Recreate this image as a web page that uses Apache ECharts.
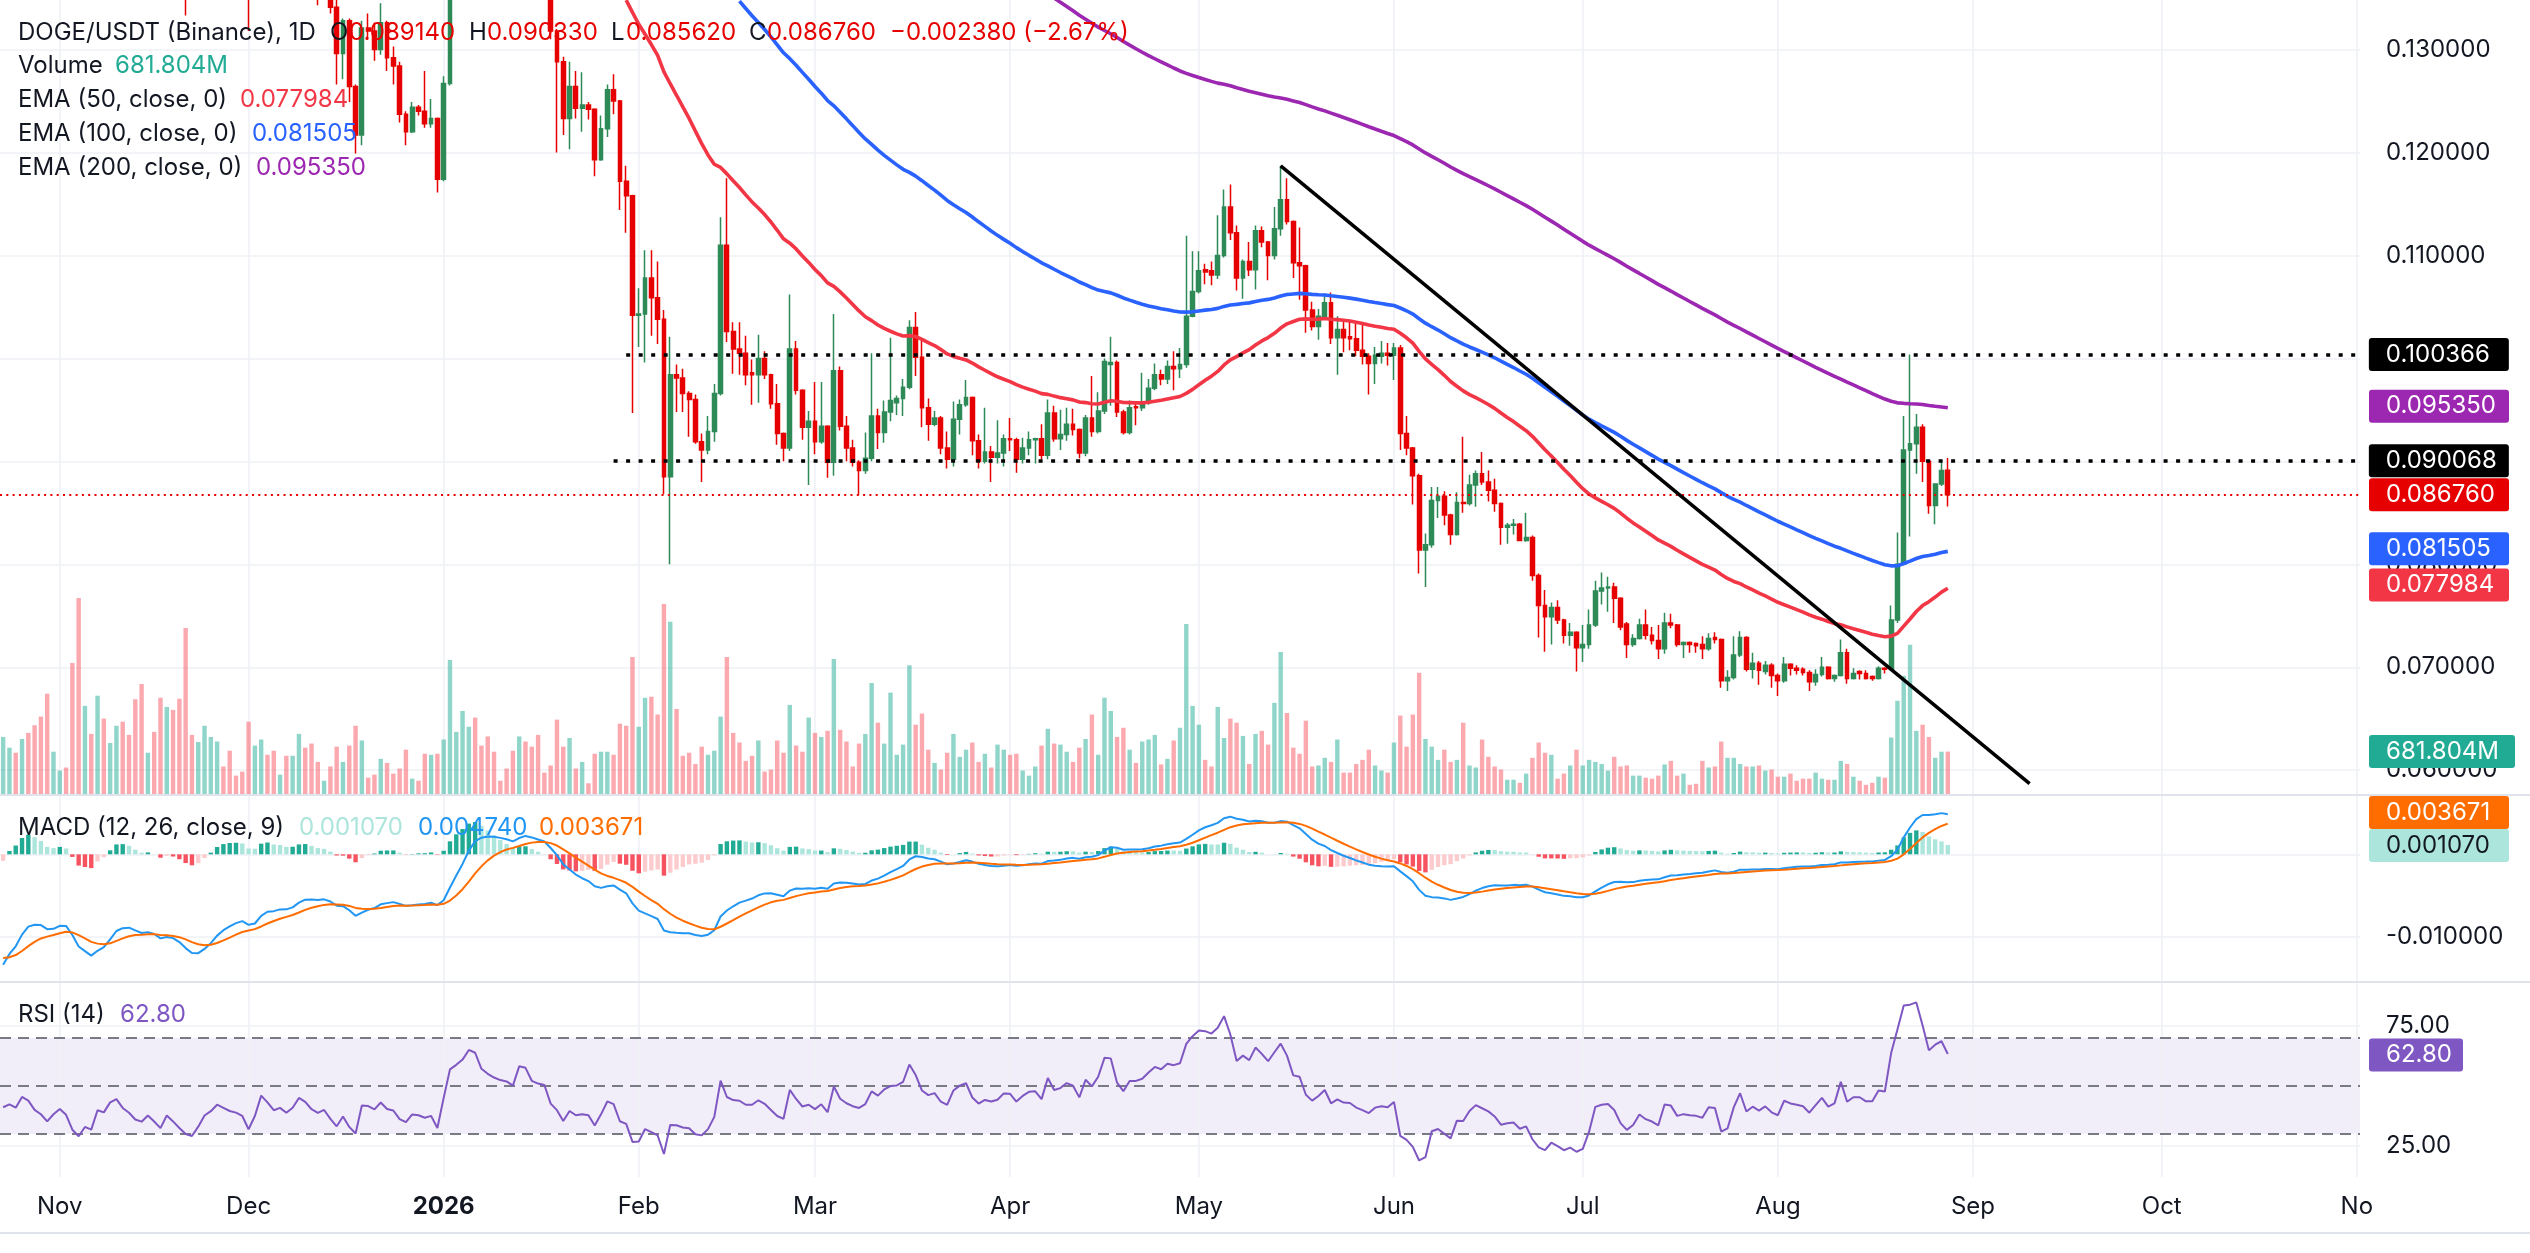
<!DOCTYPE html>
<html><head><meta charset="utf-8">
<script src="https://cdn.jsdelivr.net/npm/echarts@6/dist/echarts.min.js"></script>
<style>html,body{margin:0;padding:0;background:#fff}#c{width:2530px;height:1253px}</style>
</head><body><div id="c"></div>
<script>
// ---------------- DATA ----------------
const startDate = '2025-10-23';
const categoryCount = 375; // daily categories through 2026-11-01

const open = [
.1930,.1970,.1990,.1960,.2030,.2000,.1920,.1880,.1810,.1850,
.1880,.1830,.1680,.1600,.1650,.1620,.1730,.1710,.1770,.1790,
.1720,.1680,.1620,.1600,.1630,.1580,.1520,.1580,.1530,.1470,
.1410,.1390,.1430,.1480,.1500,.1530,.1510,.1490,.1480,.1460,
.1370,.1420,.1510,.1470,.1420,.1430,.1400,.1420,.1460,.1440,
.1400,.1380,.1390,.1341,.1296,.1328,.1264,.1217,.1321,.1318,
.1300,.1326,.1292,.1284,.1237,.1220,.1244,.1240,.1228,.1233,
.1174,.1267,.1395,.1420,.1450,.1510,.1500,.1440,.1420,.1405,
.1395,.1390,.1375,.1455,.1450,.1405,.1395,.1390,.1318,.1288,
.1233,.1264,.1243,.1246,.1242,.1193,.1223,.1261,.1250,.1172,
.1158,.1042,.1043,.1078,.1059,.1038,.0885,.0984,.0981,.0966,
.0960,.0919,.0911,.0929,.0966,.1110,.1026,.1009,.1005,.0986,
.0984,.1000,.0984,.0956,.0927,.0913,.1009,.0969,.0933,.0939,
.0919,.0934,.0899,.0988,.0934,.0913,.0899,.0891,.0903,.0944,
.0928,.0948,.0957,.0961,.0972,.1030,.1001,.0952,.0936,.0942,
.0913,.0902,.0941,.0955,.0962,.0920,.0900,.0909,.0904,.0908,
.0922,.0921,.0902,.0913,.0921,.0922,.0906,.0947,.0922,.0926,
.0936,.0931,.0908,.0942,.0929,.0949,.0994,.0996,.0948,.0928,
.0953,.0952,.0957,.0971,.0984,.0980,.0992,.0990,.0994,.1041,
.1065,.1086,.1085,.1081,.1100,.1147,.1122,.1078,.1094,.1086,
.1124,.1113,.1100,.1126,.1154,.1133,.1093,.1090,.1047,.1031,
.1041,.1054,.1020,.1028,.1021,.1019,.1008,.1002,.0995,.1002,
.1005,.1003,.1010,.0927,.0913,.0886,.0814,.0819,.0862,.0866,
.0848,.0829,.0860,.0859,.0877,.0888,.0880,.0872,.0859,.0836,
.0838,.0839,.0823,.0826,.0789,.0760,.0749,.0758,.0746,.0731,
.0734,.0719,.0722,.0741,.0774,.0777,.0778,.0767,.0742,.0722,
.0728,.0741,.0731,.0726,.0718,.0743,.0741,.0722,.0724,.0723,
.0722,.0718,.0729,.0727,.0687,.0690,.0712,.0729,.0698,.0704,
.0696,.0702,.0692,.0687,.0703,.0699,.0698,.0695,.0686,.0693,
.0700,.0689,.0692,.0714,.0689,.0696,.0694,.0691,.0689,.0699,
.0698,.0746,.0800,.0911,.0917,.0933,.0900,.0857,.0878,.08914];

const high = [
.1990,.2020,.2000,.2060,.2060,.2030,.1960,.1910,.1870,.1900,
.1900,.1840,.1710,.1680,.1670,.1760,.1760,.1800,.1840,.1800,
.1750,.1720,.1650,.1650,.1640,.1600,.1610,.1600,.1550,.1500,
.1440,.1450,.1500,.1530,.1560,.1550,.1530,.1510,.1500,.1470,
.1440,.1530,.1530,.1490,.1450,.1440,.1440,.1480,.1480,.1460,
.1420,.1410,.1400,.1348,.1330,.1330,.1266,.1328,.1335,.1326,
.1345,.1328,.1303,.1288,.1240,.1249,.1246,.1279,.1252,.1234,
.1274,.1410,.1440,.1470,.1530,.1540,.1510,.1460,.1440,.1420,
.1410,.1400,.1470,.1480,.1460,.1420,.1410,.1400,.1320,.1293,
.1288,.1279,.1278,.1249,.1243,.1236,.1266,.1276,.1251,.1187,
.1159,.1068,.1105,.1105,.1094,.1047,.1021,.0994,.0990,.0968,
.0965,.0927,.0944,.0975,.1137,.1175,.1035,.1035,.1022,.0999,
.1023,.1007,.0985,.0975,.0928,.1062,.1017,.0970,.0949,.0977,
.0977,.0935,.1043,.0992,.0944,.0921,.0901,.0928,.1005,.0951,
.0959,.1020,.0964,.0980,.1037,.1045,.1018,.0961,.0949,.0944,
.0929,.0958,.0960,.0979,.0963,.0926,.0952,.0915,.0940,.0926,
.0942,.0923,.0923,.0929,.0923,.0936,.0960,.0954,.0950,.0952,
.0951,.0932,.0945,.0983,.0967,.1000,.1021,.0998,.0950,.0959,
.0958,.0986,.0980,.0995,.0989,.0998,.1007,.1010,.1119,.1104,
.1104,.1092,.1094,.1139,.1164,.1169,.1129,.1096,.1113,.1129,
.1128,.1114,.1147,.1187,.1175,.1134,.1127,.1091,.1055,.1048,
.1063,.1064,.1041,.1036,.1036,.1036,.1033,.1005,.1011,.1017,
.1015,.1015,.1013,.0944,.0914,.0888,.0830,.0875,.0875,.0871,
.0849,.0870,.0924,.0887,.0891,.0909,.0891,.0883,.0860,.0840,
.0844,.0840,.0850,.0828,.0791,.0775,.0763,.0765,.0747,.0743,
.0735,.0741,.0756,.0784,.0792,.0788,.0782,.0768,.0744,.0732,
.0747,.0756,.0739,.0741,.0753,.0752,.0742,.0725,.0725,.0724,
.0730,.0733,.0734,.0728,.0697,.0730,.0735,.0730,.0714,.0706,
.0706,.0704,.0694,.0710,.0704,.0702,.0700,.0697,.0698,.0710,
.0701,.0693,.0727,.0718,.0699,.0697,.0697,.0692,.0701,.0700,
.0760,.0831,.0944,.100366,.0946,.0936,.0901,.0878,.0901,.09033];

const low = [
.1900,.1940,.1930,.1950,.1980,.1900,.1860,.1780,.1790,.1830,
.1800,.1640,.1520,.1570,.1580,.1600,.1690,.1700,.1750,.1700,
.1650,.1600,.1560,.1580,.1560,.1500,.1500,.1510,.1440,.1333,
.1370,.1380,.1410,.1460,.1480,.1490,.1470,.1460,.1440,.1318,
.1348,.1410,.1450,.1400,.1400,.1370,.1380,.1410,.1420,.1380,
.1343,.1360,.1335,.1266,.1271,.1249,.1199,.1207,.1310,.1289,
.1295,.1279,.1266,.1229,.1207,.1219,.1236,.1224,.1224,.1161,
.1172,.1265,.1380,.1400,.1440,.1480,.1430,.1400,.1390,.1380,
.1370,.1360,.1370,.1430,.1390,.1380,.1370,.1310,.1200,.1217,
.1203,.1233,.1220,.1232,.1177,.1192,.1215,.1237,.1144,.1122,
.0947,.1011,.0996,.1022,.1014,.0868,.0800,.0948,.0948,.0924,
.0917,.0880,.0907,.0919,.0964,.1016,.0985,.0984,.0974,.0955,
.0957,.0980,.0951,.0916,.0900,.0910,.0965,.0921,.0877,.0907,
.0917,.0884,.0886,.0930,.0900,.0895,.0867,.0888,.0900,.0912,
.0918,.0939,.0945,.0944,.0970,.0983,.0933,.0920,.0934,.0907,
.0893,.0895,.0926,.0953,.0906,.0893,.0898,.0880,.0898,.0895,
.0910,.0889,.0898,.0906,.0898,.0902,.0902,.0919,.0911,.0920,
.0925,.0903,.0905,.0924,.0927,.0946,.0954,.0943,.0926,.0926,
.0935,.0949,.0955,.0969,.0974,.0975,.0969,.0981,.0991,.1040,
.1063,.1072,.1071,.1077,.1098,.1115,.1066,.1058,.1080,.1067,
.1108,.1076,.1096,.1119,.1130,.1078,.1057,.1025,.1027,.1018,
.1039,.1014,.0984,.1006,.1008,.1002,.0994,.0965,.0975,.0995,
.0993,.0979,.0911,.0906,.0858,.0791,.0778,.0816,.0845,.0838,
.0819,.0828,.0850,.0857,.0856,.0877,.0861,.0851,.0819,.0820,
.0829,.0823,.0822,.0784,.0729,.0715,.0722,.0742,.0723,.0721,
.0696,.0705,.0718,.0739,.0761,.0754,.0743,.0736,.0709,.0720,
.0727,.0727,.0722,.0708,.0713,.0738,.0720,.0709,.0714,.0714,
.0708,.0716,.0723,.0680,.0677,.0688,.0710,.0696,.0689,.0683,
.0693,.0680,.0672,.0685,.0692,.0693,.0692,.0677,.0682,.0691,
.0688,.0686,.0691,.0684,.0688,.0688,.0688,.0687,.0688,.0694,
.0697,.0743,.0799,.0827,.0888,.0880,.0849,.0839,.0876,.08562];

const close = [
.1970,.1990,.1960,.2030,.2000,.1920,.1880,.1810,.1850,.1880,
.1830,.1680,.1600,.1650,.1620,.1730,.1710,.1770,.1790,.1720,
.1680,.1620,.1600,.1630,.1580,.1520,.1580,.1530,.1470,.1410,
.1390,.1430,.1480,.1500,.1530,.1510,.1490,.1480,.1460,.1370,
.1420,.1510,.1470,.1420,.1430,.1400,.1420,.1460,.1440,.1400,
.1380,.1390,.1341,.1296,.1328,.1264,.1217,.1321,.1318,.1300,
.1326,.1292,.1284,.1237,.1220,.1244,.1240,.1228,.1233,.1174,
.1267,.1395,.1420,.1450,.1510,.1500,.1440,.1420,.1405,.1395,
.1390,.1375,.1455,.1450,.1405,.1395,.1390,.1318,.1288,.1233,
.1264,.1243,.1246,.1242,.1193,.1223,.1261,.1250,.1172,.1158,
.1042,.1043,.1078,.1059,.1038,.0885,.0984,.0981,.0966,.0960,
.0919,.0911,.0929,.0966,.1110,.1026,.1009,.1005,.0984,.0984,
.1000,.0984,.0956,.0927,.0913,.1009,.0969,.0933,.0939,.0919,
.0934,.0899,.0988,.0934,.0913,.0899,.0891,.0903,.0944,.0928,
.0948,.0959,.0961,.0972,.1030,.1001,.0952,.0936,.0942,.0913,
.0902,.0941,.0955,.0962,.0920,.0900,.0909,.0904,.0908,.0922,
.0921,.0902,.0913,.0921,.0922,.0906,.0947,.0922,.0926,.0936,
.0931,.0908,.0942,.0929,.0949,.0997,.0996,.0948,.0928,.0952,
.0952,.0957,.0971,.0984,.0980,.0992,.0990,.0994,.1041,.1065,
.1085,.1084,.1081,.1100,.1147,.1122,.1078,.1094,.1086,.1124,
.1113,.1100,.1126,.1154,.1133,.1093,.1090,.1047,.1031,.1041,
.1054,.1020,.1028,.1020,.1019,.1008,.1002,.0995,.1003,.1005,
.1003,.1010,.0927,.0913,.0886,.0814,.0819,.0862,.0866,.0848,
.0829,.0860,.0859,.0877,.0888,.0880,.0872,.0859,.0836,.0838,
.0839,.0823,.0826,.0789,.0760,.0749,.0758,.0746,.0731,.0734,
.0719,.0722,.0741,.0774,.0777,.0778,.0767,.0739,.0722,.0728,
.0741,.0731,.0726,.0718,.0743,.0741,.0722,.0724,.0722,.0721,
.0718,.0728,.0727,.0687,.0690,.0712,.0729,.0698,.0704,.0697,
.0702,.0692,.0687,.0703,.0699,.0697,.0695,.0686,.0693,.0700,
.0689,.0692,.0714,.0689,.0694,.0694,.0689,.0689,.0699,.0698,
.0746,.0800,.0911,.0917,.0933,.0900,.0857,.0878,.0891,.08676];

// volume in millions
const volume = [
912,744,664,880,976,1096,1232,1592,680,384,
432,2072,3096,1400,960,1560,1200,816,1088,1152,
944,1504,1744,664,992,1528,1384,1336,1512,2624,
944,832,1088,912,840,448,696,304,368,1152,
776,872,632,696,320,616,616,960,744,808,
520,224,448,760,520,776,1088,856,272,320,
568,504,336,416,712,256,224,648,632,648,
872,2120,992,1320,1072,1216,776,920,680,224,
416,696,920,840,760,944,352,464,1184,760,
896,416,520,184,648,680,680,632,1120,1088,
2168,1072,1528,1544,1264,3000,2720,1352,616,664,
488,760,632,696,1232,2168,976,824,536,616,
856,368,400,856,664,1416,776,680,1216,976,
912,1008,2136,1024,840,448,808,960,1760,1136,
808,1608,632,792,2040,1104,1280,712,504,400,
664,960,600,712,824,520,648,432,792,712,
632,648,384,304,448,776,1040,808,792,680,
520,744,880,1264,632,1528,1320,912,1056,712,
504,840,872,944,480,568,856,1056,2688,1400,
1104,552,448,1384,896,1200,1136,928,488,960,
1008,792,1448,2248,1288,744,648,1168,448,464,
584,520,872,352,352,488,552,712,464,384,
352,824,1248,760,1264,1920,880,760,552,712,
520,552,1136,464,432,872,600,448,400,240,
240,192,336,584,824,664,632,256,336,464,
712,464,552,520,488,384,600,448,464,304,
304,272,256,304,480,536,304,336,160,176,
536,432,448,840,584,584,488,448,448,464,
384,400,288,288,336,224,256,256,352,256,
240,240,536,488,288,224,160,192,288,272,
904,1480,1872,2360,1008,1104,912,584,680,681.804];

// x-axis tick labels (first day of each month)
const monthTickLabels = {
  '2025-11-01':'Nov','2025-12-01':'Dec','2026-01-01':'2026','2026-02-01':'Feb',
  '2026-03-01':'Mar','2026-04-01':'Apr','2026-05-01':'May','2026-06-01':'Jun',
  '2026-07-01':'Jul','2026-08-01':'Aug','2026-09-01':'Sep','2026-10-01':'Oct','2026-11-01':'No'
};
const priceTicks = [0.06,0.07,0.08,0.09,0.10,0.11,0.12,0.13];
const macdTicks = [0, -0.01];
const rsiTicks = [75, 25];
const rsiBands = [70, 50, 30];

// indicator seeds read where each line enters the picture
const emaSeeds = { ema50: ['2026-01-30', 0.1348], ema100: ['2026-02-17', 0.1347], ema200: ['2026-04-08', 0.1350] };
const macdSeeds = { fast: 0.1950, slow: 0.2084, signal: -0.0126 };
const rsiSeeds = { gain: 0.0030, loss: 0.0043 };

// annotations
const levelLines = [ { start: '2026-01-30', value: 0.100366 }, { start: '2026-01-28', value: 0.090068 } ];
const trendLine = [ ['2026-05-14', 0.1187], ['2026-09-10', 0.0587] ];
const lastPrice = 0.08676;
const lastValues = { ema50: 0.077984, ema100: 0.081505, ema200: 0.095350, volume: 681.804,
  macd: 0.004740, signal: 0.003671, hist: 0.001070, rsi: 62.80 };
const headerOHLC = { o: '0.089140', h: '0.090330', l: '0.085620', c: '0.086760', chg: '\u22120.002380 (\u22122.67%)' };

// ---------------- BUILD ----------------
const dates = [];
{ const [y,m,d] = startDate.split('-').map(Number);
  for (let i = 0; i < categoryCount; i++) dates.push(new Date(Date.UTC(y, m-1, d + i)).toISOString().slice(0,10)); }
const idxOf = s => dates.indexOf(s);

function ema(src, period, seedIdx, seedVal) {
  const k = 2/(period+1), out = src.map(() => null);
  let e = seedVal; out[seedIdx] = e;
  for (let i = seedIdx+1; i < src.length; i++) { e = k*src[i] + (1-k)*e; out[i] = e; }
  return out;
}
const ema50 = ema(close, 50, idxOf(emaSeeds.ema50[0]), emaSeeds.ema50[1]);
const ema100 = ema(close, 100, idxOf(emaSeeds.ema100[0]), emaSeeds.ema100[1]);
const ema200 = ema(close, 200, idxOf(emaSeeds.ema200[0]), emaSeeds.ema200[1]);
const fast = ema(close, 12, 0, macdSeeds.fast);
const slow = ema(close, 26, 0, macdSeeds.slow);
const macd = fast.map((v,i) => v - slow[i]);
const signal = ema(macd, 9, 0, macdSeeds.signal);
const hist = macd.map((v,i) => v - signal[i]);
const rsi = [];
{ let ag = rsiSeeds.gain, al = rsiSeeds.loss; rsi.push(100 - 100/(1+ag/al));
  for (let i = 1; i < close.length; i++) { const ch = close[i]-close[i-1];
    ag = (ag*13 + Math.max(ch,0))/14; al = (al*13 + Math.max(-ch,0))/14; rsi.push(100 - 100/(1+ag/al)); } }

const FONT = 'Inter, "Noto Sans", sans-serif';
const TXT = '#131722';
const UP = '#2e8a57', DOWN = '#e60000';
const GRIDC = '#eff1f6';

const candleData = open.map((o,i) => [o, close[i], low[i], high[i]]);
const volData = volume.map((v,i) => ({ value: v, itemStyle: { color: close[i] >= open[i] ? 'rgba(34,171,148,0.5)' : 'rgba(247,82,95,0.5)' } }));
const histData = hist.map((h,i) => {
  const p = i > 0 ? hist[i-1] : h;
  const c = h >= 0 ? (h > p ? '#22ab94' : '#ace5dc') : (h < p ? '#f7525f' : '#fccbcd');
  return { value: h, itemStyle: { color: c } };
});

const verticals = Object.keys(monthTickLabels).map(d => ({ xAxis: d, lineStyle: { color: GRIDC, width: 1.6, type: 'solid' }, label: { show: false } }));
function gridLine(v, text) {
  return { yAxis: v, lineStyle: { color: GRIDC, width: 1.6, type: 'solid' },
    label: { show: !!text, position: 'end', distance: 26, formatter: text || '', color: TXT, fontSize: 24, fontFamily: FONT } };
}
function tag(v, text, bg, fg, w, extra) {
  return Object.assign({ yAxis: v, lineStyle: { color: 'rgba(0,0,0,0)', width: 0 },
    label: Object.assign({ show: true, position: 'end', distance: 9, formatter: text, color: fg || '#fff', backgroundColor: bg,
      fontSize: 24, fontFamily: FONT, width: w || 106, padding: [4, 17], lineHeight: 25, borderRadius: 3 }, extra || {}) });
}
const markBase = { silent: true, symbol: ['none','none'], animation: false, precision: 8 };

function t(x, y, text, fill, weight) {
  return { type: 'text', x, y, z: 100, style: { text, fill, font: (weight||'normal') + ' 24px ' + FONT, verticalAlign: 'middle', textVerticalAlign: 'middle' } };
}

const option = {
  animation: false,
  backgroundColor: '#ffffff',
  grid: [
    { left: 0, right: 170, top: 0, height: 795 },
    { left: 0, right: 170, top: 795, height: 187 },
    { left: 0, right: 170, top: 982, height: 195 }
  ],
  xAxis: [0,1,2].map(g => ({
    type: 'category', gridIndex: g, data: dates, boundaryGap: true,
    axisLine: { show: false }, axisTick: { show: false }, splitLine: { show: false },
    axisLabel: g === 2 ? {
      show: true, margin: 18, fontSize: 24, fontFamily: FONT, color: TXT,
      interval: (i, v) => monthTickLabels[v] !== undefined,
      formatter: v => v === '2026-01-01' ? '{b|' + monthTickLabels[v] + '}' : monthTickLabels[v],
      rich: { b: { fontWeight: 'bold', fontSize: 24, fontFamily: FONT, color: TXT } }
    } : { show: false }
  })),
  yAxis: [
    { gridIndex: 0, type: 'value', min: 0.057593, max: 0.134808, show: false },
    { gridIndex: 0, type: 'value', min: 0, max: 12490, show: false },
    { gridIndex: 1, type: 'value', min: -0.0155, max: 0.0072, show: false },
    { gridIndex: 2, type: 'value', min: 12.12, max: 93.16, show: false }
  ],
  graphic: [
    { type: 'line', z: 50, shape: { x1: 0, y1: 795, x2: 2530, y2: 795 }, style: { stroke: '#e0e3eb', lineWidth: 2 } },
    { type: 'line', z: 50, shape: { x1: 0, y1: 982, x2: 2530, y2: 982 }, style: { stroke: '#e0e3eb', lineWidth: 2 } },
    { type: 'line', z: 50, shape: { x1: 0, y1: 1233, x2: 2530, y2: 1233 }, style: { stroke: '#e0e3eb', lineWidth: 2 } },
    t(18, 33, 'DOGE/USDT (Binance), 1D', TXT),
    t(330, 33, 'O', TXT), t(349, 33, headerOHLC.o, DOWN),
    t(469, 33, 'H', TXT), t(487, 33, headerOHLC.h, DOWN),
    t(611, 33, 'L', TXT), t(626, 33, headerOHLC.l, DOWN),
    t(749, 33, 'C', TXT), t(767, 33, headerOHLC.c, DOWN),
    t(890, 33, headerOHLC.chg, DOWN),
    t(18, 66, 'Volume', TXT), t(115, 66, '681.804M', '#22ab94'),
    t(18, 100, 'EMA (50, close, 0)', TXT), t(240, 100, lastValues.ema50.toFixed(6), '#f23645'),
    t(18, 134, 'EMA (100, close, 0)', TXT), t(252, 134, lastValues.ema100.toFixed(6), '#2962ff'),
    t(18, 168, 'EMA (200, close, 0)', TXT), t(256, 168, lastValues.ema200.toFixed(6), '#9c27b0'),
    t(18, 828, 'MACD (12, 26, close, 9)', TXT),
    t(299, 828, lastValues.hist.toFixed(6), '#ace5dc'),
    t(418, 828, lastValues.macd.toFixed(6), '#2196f3'),
    t(539, 828, lastValues.signal.toFixed(6), '#ff6d00'),
    t(18, 1015, 'RSI (14)', TXT), t(120, 1015, lastValues.rsi.toFixed(2), '#7e57c2')
  ],
  series: [
    { name: 'DOGE', type: 'candlestick', xAxisIndex: 0, yAxisIndex: 0, z: 3, barWidth: '68%',
      data: candleData,
      itemStyle: { color: UP, color0: DOWN, borderColor: UP, borderColor0: DOWN, borderWidth: 1.5 },
      markLine: Object.assign({}, markBase, { z: 1, data: verticals.concat(priceTicks.map(v => gridLine(v, v.toFixed(6)))) })
    },
    { name: 'Volume', type: 'bar', xAxisIndex: 0, yAxisIndex: 1, z: 2, barWidth: '70%', data: volData,
      markLine: Object.assign({}, markBase, { z: 8, data: [ tag(lastValues.volume, '681.804M', '#22ab94', '#fff', 112) ] })
    },
    { name: 'EMA50', type: 'line', xAxisIndex: 0, yAxisIndex: 0, z: 4, data: ema50, showSymbol: false, symbol: 'none',
      lineStyle: { color: '#f23645', width: 3.6 },
      markLine: Object.assign({}, markBase, { z: 8, data: [ tag(lastValues.ema50, lastValues.ema50.toFixed(6), '#f23645') ] }) },
    { name: 'EMA100', type: 'line', xAxisIndex: 0, yAxisIndex: 0, z: 4, data: ema100, showSymbol: false, symbol: 'none',
      lineStyle: { color: '#2962ff', width: 3.6 },
      markLine: Object.assign({}, markBase, { z: 8, data: [ tag(lastValues.ema100, lastValues.ema100.toFixed(6), '#2962ff') ] }) },
    { name: 'EMA200', type: 'line', xAxisIndex: 0, yAxisIndex: 0, z: 4, data: ema200, showSymbol: false, symbol: 'none',
      lineStyle: { color: '#9c27b0', width: 3.6 },
      markLine: Object.assign({}, markBase, { z: 8, data: [ tag(lastValues.ema200, lastValues.ema200.toFixed(6), '#9c27b0') ] }) },
    { name: 'Annotations', type: 'line', xAxisIndex: 0, yAxisIndex: 0, z: 5, data: close, showSymbol: false, symbol: 'none',
      lineStyle: { opacity: 0 }, silent: true,
      markLine: Object.assign({}, markBase, { z: 7, data: [
        { yAxis: lastPrice, lineStyle: { color: DOWN, width: 2, type: [2, 4.3] },
          label: { show: true, position: 'end', distance: 9, formatter: lastPrice.toFixed(6), color: '#fff', backgroundColor: DOWN,
            fontSize: 24, fontFamily: FONT, width: 106, padding: [4,17], lineHeight: 25, borderRadius: 3 } },
        ...levelLines.map(l => [
          { coord: [l.start, l.value], lineStyle: { color: '#000', width: 3.5, type: [4, 8.5] },
            label: { show: true, position: 'end', distance: 12, formatter: l.value.toFixed(6), color: '#fff', backgroundColor: '#000',
              fontSize: 24, fontFamily: FONT, width: 106, padding: [4,17], lineHeight: 25, borderRadius: 3 } },
          { coord: [dates[dates.length-1], l.value] }
        ]),
        [ { coord: trendLine[0], lineStyle: { color: '#000', width: 3.5, type: 'solid' }, label: { show: false } },
          { coord: trendLine[1] } ]
      ] }) },
    { name: 'Histogram', type: 'bar', xAxisIndex: 1, yAxisIndex: 2, z: 2, barWidth: '70%', data: histData,
      markLine: Object.assign({}, markBase, { z: 1, data: verticals.concat(macdTicks.map(v => gridLine(v, v.toFixed(6)))) }) },
    { name: 'MACD', type: 'line', xAxisIndex: 1, yAxisIndex: 2, z: 4, data: macd, showSymbol: false, symbol: 'none',
      lineStyle: { color: '#2196f3', width: 2 },
      markLine: Object.assign({}, markBase, { z: 8, data: [
        tag(lastValues.signal, lastValues.signal.toFixed(6), '#ff6d00', '#fff', 106, { offset: [0, -11.5] }),
        tag(lastValues.hist, lastValues.hist.toFixed(6), '#ace5dc', '#131722')
      ] }) },
    { name: 'Signal', type: 'line', xAxisIndex: 1, yAxisIndex: 2, z: 4, data: signal, showSymbol: false, symbol: 'none',
      lineStyle: { color: '#ff6d00', width: 2 } },
    { name: 'RSI', type: 'line', xAxisIndex: 2, yAxisIndex: 3, z: 4, data: rsi, showSymbol: false, symbol: 'none',
      lineStyle: { color: '#7e57c2', width: 2 },
      markArea: { silent: true, z: 1, itemStyle: { color: 'rgba(126,87,194,0.1)' }, data: [[ { yAxis: rsiBands[0] }, { yAxis: rsiBands[2] } ]] },
      markLine: Object.assign({}, markBase, { z: 2, data: verticals
        .concat(rsiTicks.map(v => gridLine(v, v.toFixed(2))))
        .concat(rsiBands.map(v => ({ yAxis: v, lineStyle: { color: '#787b86', width: 2, type: [11, 7] }, label: { show: false } })))
        .concat([ tag(lastValues.rsi, lastValues.rsi.toFixed(2), '#7e57c2', '#fff', 60) ]) }) }
  ]
};

const chart = echarts.init(document.getElementById('c'), null, { renderer: 'canvas' });
chart.setOption(option);
</script>
</body></html>
